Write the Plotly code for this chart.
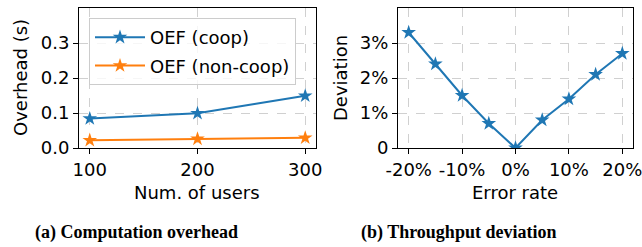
import plotly.graph_objects as go

# ---- data ----
users = [100, 200, 300]
coop = [0.084, 0.099, 0.149]
noncoop = [0.022, 0.026, 0.029]

err_rate = [-20, -15, -10, -5, 0, 5, 10, 15, 20]
deviation = [3.3, 2.4, 1.5, 0.7, 0.0, 0.8, 1.4, 2.1, 2.7]

left_yticks = [0.0, 0.1, 0.2, 0.3]
left_yticklabels = ["0.0", "0.1", "0.2", "0.3"]
left_xticks = [100, 200, 300]
right_xticks = [-20, -10, 0, 10, 20]
right_xticklabels = ["-20%", "-10%", "0%", "10%", "20%"]
right_yticks = [0, 1, 2, 3]
right_yticklabels = ["0", "1%", "2%", "3%"]

W, H = 642, 247
BLUE = "#1f77b4"
ORANGE = "#ff7f0e"
FONT = "DejaVu Sans"
FS = 18

fig = go.Figure()
fig.add_trace(go.Scatter(x=users, y=coop, mode="lines+markers", name="OEF (coop)",
                         line=dict(color=BLUE, width=2),
                         marker=dict(symbol="star", size=11, color=BLUE),
                         xaxis="x", yaxis="y", legendgroup="a"))
fig.add_trace(go.Scatter(x=users, y=noncoop, mode="lines+markers", name="OEF (non-coop)",
                         line=dict(color=ORANGE, width=2),
                         marker=dict(symbol="star", size=11, color=ORANGE),
                         xaxis="x", yaxis="y", legendgroup="b"))
fig.add_trace(go.Scatter(x=err_rate, y=deviation, mode="lines+markers", showlegend=False,
                         line=dict(color=BLUE, width=2),
                         marker=dict(symbol="star", size=11, color=BLUE),
                         xaxis="x2", yaxis="y2"))

def px_x(p):
    return p / W

def px_y(p):
    return 1 - p / H

axis_common = dict(showline=True, linecolor="black", linewidth=1, mirror=True,
                   ticks="outside", ticklen=5, tickcolor="black", tickwidth=1,
                   showgrid=True, gridcolor="#d0d0d0", griddash="dash", gridwidth=1,
                   zeroline=False, automargin=False, ticklabeloverflow="allow",
                   tickfont=dict(family=FONT, size=FS, color="black"))

ydom = [px_y(148), px_y(8)]
fig.update_layout(
    template="none",
    width=W, height=H, margin=dict(l=0, r=0, t=0, b=0),
    paper_bgcolor="white", plot_bgcolor="white",
    font=dict(family=FONT, size=FS, color="black"),
    xaxis=dict(domain=[px_x(79), px_x(316)], range=[90, 310], tickvals=left_xticks,
               anchor="y", **axis_common),
    yaxis=dict(domain=ydom, range=[0, 0.4], tickvals=left_yticks, ticktext=left_yticklabels,
               anchor="x", **axis_common),
    xaxis2=dict(domain=[px_x(398), px_x(633)], range=[-22, 22], tickvals=right_xticks,
                ticktext=right_xticklabels, anchor="y2", **axis_common),
    yaxis2=dict(domain=ydom, range=[0, 4], tickvals=right_yticks, ticktext=right_yticklabels,
                anchor="x2", **axis_common),
    legend=dict(x=px_x(89), y=px_y(18), xanchor="left", yanchor="top",
                bgcolor="rgba(255,255,255,0.8)", bordercolor="#cccccc", borderwidth=1,
                font=dict(family=FONT, size=FS), traceorder="grouped", tracegroupgap=2,
                itemwidth=50),
)

annots = [
    dict(text="Num. of users", x=px_x(197), y=px_y(192), xanchor="center", yanchor="middle",
         font=dict(family=FONT, size=FS)),
    dict(text="Error rate", x=px_x(515), y=px_y(192), xanchor="center", yanchor="middle",
         font=dict(family=FONT, size=FS)),
    dict(text="Overhead (s)", x=px_x(20), y=px_y(78), xanchor="center", yanchor="middle",
         textangle=-90, font=dict(family=FONT, size=FS)),
    dict(text="Deviation", x=px_x(340), y=px_y(78), xanchor="center", yanchor="middle",
         textangle=-90, font=dict(family=FONT, size=FS)),
    dict(text="<b>(a) Computation overhead</b>", x=px_x(136), y=px_y(232), xanchor="center",
         yanchor="middle", font=dict(family="Liberation Serif", size=18)),
    dict(text="<b>(b) Throughput deviation</b>", x=px_x(458), y=px_y(232), xanchor="center",
         yanchor="middle", font=dict(family="Liberation Serif", size=18)),
]
for a in annots:
    a.update(xref="paper", yref="paper", showarrow=False)
fig.update_layout(annotations=annots)

fig.write_html("out.html", config={"displayModeBar": False},
               post_script="document.body.style.margin='0';document.body.style.overflow='hidden';")
